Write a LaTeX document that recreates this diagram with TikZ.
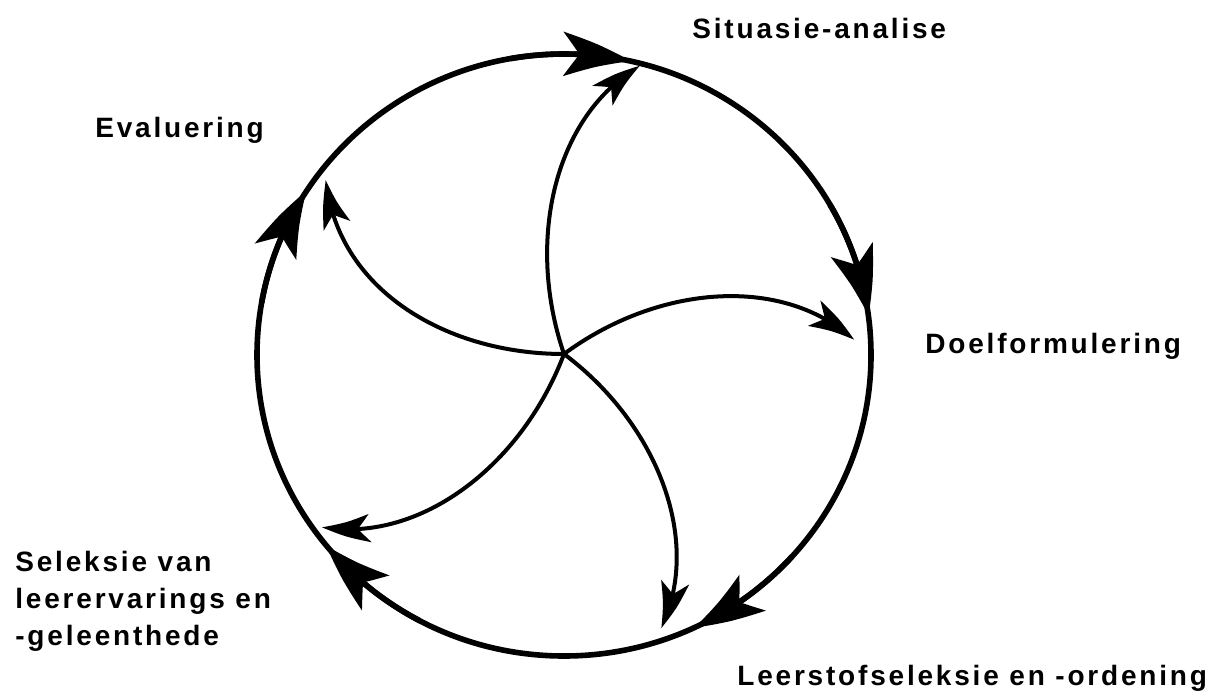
\documentclass[tikz,border=0pt]{standalone}
\usepackage{fontspec}
\setmainfont{Liberation Sans}
\newfontfamily\lblfont[LetterSpace=10]{Liberation Sans}
\usetikzlibrary{arrows.meta,bending,calc}
\begin{document}
\begin{tikzpicture}[x=0.5pt,y=-0.5pt,
  ring/.style={line width=2.8pt},
  ringhead/.style={line width=2.8pt,-{Stealth[length=34pt,width=22pt,inset=8pt,bend]}},
  spoke/.style={line width=2pt,-{Stealth[length=24pt,width=14pt,inset=6pt,bend]}},
  lbl/.style={font=\lblfont\bfseries\fontsize{14pt}{17pt}\selectfont, anchor=base west, inner sep=0pt}]
\useasboundingbox (0,0) rectangle (1219,696);
% centre of ring and hub of spokes
\coordinate (c) at (564,355);
\coordinate (hub) at (564,354);
% ring
\draw[ring] (c) ellipse[x radius=307, y radius=301];
% ring arrow heads (clockwise)
\coordinate (r1s) at ($(c)+(-100:307 and 301)$);
\coordinate (r2s) at ($(c)+(-30:307 and 301)$);
\coordinate (r3s) at ($(c)+(42:307 and 301)$);
\coordinate (r4s) at ($(c)+(118:307 and 301)$);
\coordinate (r5s) at ($(c)+(190:307 and 301)$);
\draw[ringhead] (r1s) arc[start angle=-100, end angle=-77.4, x radius=307, y radius=301];
\draw[ringhead] (r2s) arc[start angle=-30, end angle=-7.5, x radius=307, y radius=301];
\draw[ringhead] (r3s) arc[start angle=42, end angle=64.9, x radius=307, y radius=301];
\draw[ringhead] (r4s) arc[start angle=118, end angle=140.7, x radius=307, y radius=301];
\draw[ringhead] (r5s) arc[start angle=190, end angle=213, x radius=307, y radius=301];
% spoke tips
\coordinate (tS) at (640,66);
\coordinate (tD) at (854,340);
\coordinate (tL) at (661,628);
\coordinate (tK) at (322,527);
\coordinate (tE) at (326,180);
% spokes
\draw[spoke] (hub) .. controls ($(hub)+(-108.9:120.4)$) and ($(hub)+(-92.2:239.3)$) .. (tS);
\draw[spoke] (hub) .. controls ($(hub)+(-36.5:117.3)$) and ($(hub)+(-19.8:233.1)$) .. (tD);
\draw[spoke] (hub) .. controls ($(hub)+(36.8:117.4)$) and ($(hub)+(53.5:233.4)$) .. (tL);
\draw[spoke] (hub) .. controls ($(hub)+(110.7:120.2)$) and ($(hub)+(127.4:238.9)$) .. (tK);
\draw[spoke] (hub) .. controls ($(hub)+(180:119)$) and ($(hub)+(196:236)$) .. (tE);
% labels
\node[lbl] (sit) at (692,39) {Situasie-analise};
\node[lbl] (eva) at (95,137) {Evaluering};
\node[lbl] (doe) at (925,353) {Doelformulering};
\node[lbl] (lee) at (737,685) {Leerstofseleksie en -ordening};
\node[lbl] (sel1) at (15,571) {Seleksie van};
\node[lbl] (sel2) at (15,608) {leerervarings en};
\node[lbl] (sel3) at (15,645) {-geleenthede};
\end{tikzpicture}
\end{document}
